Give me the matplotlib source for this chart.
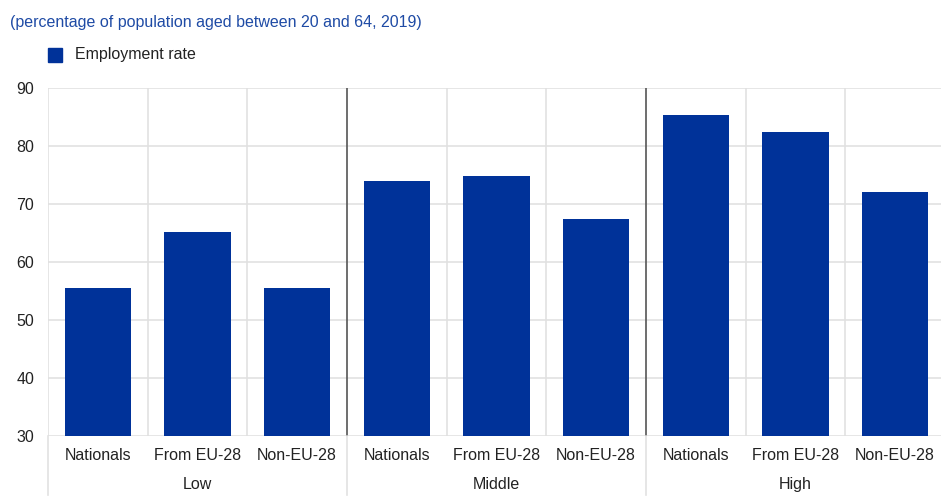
import matplotlib.pyplot as plt
import numpy as np

plt.rcParams['font.family'] = ['Liberation Sans', 'DejaVu Sans']

# data
groups = ['Low', 'Middle', 'High']
categories = ['Nationals', 'From EU-28', 'Non-EU-28']
employment_rate = [55.5, 65.1, 55.6,
                   73.9, 74.9, 67.5,
                   85.3, 82.4, 72.1]
yticks = [30, 40, 50, 60, 70, 80, 90]

bar_color = '#003299'
grid_color = '#e1e1e1'

W, H = 941, 500
fig = plt.figure(figsize=(W / 100, H / 100), dpi=100)
left, right, top, bottom = 48, 945, 88, 436
ax = fig.add_axes([left / W, 1 - bottom / H, (right - left) / W, (bottom - top) / H])

x = np.arange(len(employment_rate))
ax.bar(x, employment_rate, width=0.667, color=bar_color, zorder=3)

ax.set_xlim(-0.5, len(x) - 0.5)
ax.set_ylim(30, 90)
ax.set_yticks(yticks)
ax.tick_params(axis='y', length=0, pad=10, labelsize=11.5, colors='#222222')

labels = categories * len(groups)
ax.set_xticks(x)
ax.set_xticklabels(labels)
ax.tick_params(axis='x', length=0, pad=9, labelsize=11.5, colors='#222222')

for s in ax.spines.values():
    s.set_visible(False)

# horizontal grid
for v in yticks:
    ax.axhline(v, color=grid_color, lw=1.2, zorder=1)

# vertical grid lines between categories
for i in range(len(x) + 1):
    b = i - 0.5
    if i % 3 == 0 and 0 < i < len(x):
        ax.plot([b, b], [30, 90], color='#555555', lw=1.2, zorder=2)
    else:
        ax.plot([b, b], [30, 90], color=grid_color, lw=1.2, zorder=1)

# separators and group labels below the axis
trans = ax.get_xaxis_transform()
ylow = -(495 - bottom) / (bottom - top)
for g in range(len(groups) + 1):
    b = g * 3 - 0.5
    ax.plot([b, b], [0, ylow], color=grid_color, lw=1.2, transform=trans, clip_on=False)
for g, name in enumerate(groups):
    ax.text(g * 3 + 1, -(489 - bottom) / (bottom - top), name, transform=trans,
            ha='center', va='baseline', fontsize=11.5, color='#222222')

# subtitle and legend
fig.text(10 / W, 1 - 22 / H, '(percentage of population aged between 20 and 64, 2019)',
         ha='left', va='center', fontsize=11.5, color='#1f4ba5')
fig.patches.append(plt.Rectangle((48 / W, 1 - 62 / H), 14 / W, 14 / H,
                                 transform=fig.transFigure, color=bar_color))
fig.text(75 / W, 1 - 55 / H, 'Employment rate', ha='left', va='center',
         fontsize=11.5, color='#222222')

fig.savefig('out.png', dpi=100)
